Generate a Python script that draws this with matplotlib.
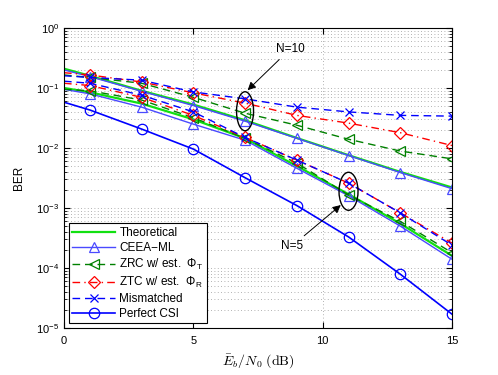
import matplotlib
matplotlib.use("Agg")
import matplotlib.pyplot as plt
import matplotlib.transforms as mtransforms
from matplotlib.patches import Ellipse
from matplotlib.ticker import LogLocator, NullFormatter

plt.rcParams['font.family'] = ['Liberation Sans', 'DejaVu Sans']
plt.rcParams['mathtext.fontset'] = 'custom'
plt.rcParams['mathtext.rm'] = 'Liberation Sans'
plt.rcParams['mathtext.it'] = 'Liberation Sans:italic'

# Eb/N0 points (markers on every point except the first)
snr = [0, 1, 3, 5, 7, 9, 11, 13, 15]

# N = 10 group
theo_10 = [0.21, 0.16, 0.09, 0.053, 0.029, 0.0147, 0.0076, 0.004, 0.0022]
ceea_10 = [0.20, 0.155, 0.088, 0.051, 0.028, 0.0145, 0.0075, 0.0039, 0.0021]
zrc_10 = [0.165, 0.15, 0.12, 0.07, 0.038, 0.024, 0.014, 0.0089, 0.0066]
ztc_10 = [0.18, 0.165, 0.126, 0.083, 0.056, 0.035, 0.026, 0.018, 0.011]
mis_10 = [0.16, 0.15, 0.135, 0.086, 0.066, 0.048, 0.04, 0.035, 0.034]

# N = 5 group
theo_5 = [0.10, 0.085, 0.055, 0.03, 0.0145, 0.005, 0.0017, 5.5e-4, 1.6e-4]
ceea_5 = [0.095, 0.08, 0.048, 0.025, 0.0135, 0.0046, 0.0016, 5.0e-4, 1.4e-4]
zrc_5 = [0.095, 0.09, 0.063, 0.032, 0.0145, 0.0056, 0.00165, 6.0e-4, 1.8e-4]
ztc_5 = [0.12, 0.11, 0.07, 0.035, 0.015, 0.0063, 0.0026, 8.3e-4, 2.6e-4]
mis_5 = [0.13, 0.12, 0.076, 0.04, 0.015, 0.0063, 0.0026, 8.3e-4, 2.4e-4]

perfect = [0.058, 0.043, 0.0207, 0.0096, 0.0032, 0.0011, 3.3e-4, 7.9e-5, 1.7e-5]

# ellipse centres (Eb/N0, BER) and annotation anchors
ell_10 = (7, 0.041)
ell_5 = (11, 0.0019)
arrow_10 = (7.1, 0.092)
text_10 = (8.75, 0.45)
arrow_5 = (10.7, 0.00112)
text_5 = (8.8, 0.00023)

fig = plt.figure(figsize=(4.98, 3.75), dpi=100)
ax = fig.add_axes([0.1285, 0.1253, 0.7791, 0.8000])

mk = dict(markevery=list(range(1, 9)), fillstyle='none', markersize=7.5, markeredgewidth=0.9)
dash = (5.5, 3.5)
dashdot = (5.5, 3, 1, 3)

green = '#11e011'
lblue = '#4a4aff'
dgreen = '#008000'

for theo, ceea, zrc, ztc, mis, first in [(theo_10, ceea_10, zrc_10, ztc_10, mis_10, True),
                                         (theo_5, ceea_5, zrc_5, ztc_5, mis_5, False)]:
    ax.plot(snr, theo, color=green, lw=1.6, label='Theoretical' if first else None)
    ax.plot(snr, ceea, color=lblue, lw=1.0, marker='^', label='CEEA\u2212ML' if first else None, **mk)
    ax.plot(snr, zrc, color=dgreen, lw=1.0, marker='<', dashes=dash,
            label=r'ZRC w/ est.  $\Phi_{\mathrm{T}}$' if first else None, **mk)
    ax.plot(snr, ztc, color='red', lw=1.0, marker='D', dashes=dashdot,
            label=r'ZTC w/ est.  $\Phi_{\mathrm{R}}$' if first else None,
            **dict(mk, markersize=6.5))
    ax.plot(snr, mis, color='blue', lw=1.0, marker='x', dashes=dash,
            label='Mismatched' if first else None, **dict(mk, markersize=6))

ax.plot(snr, perfect, color='blue', lw=1.2, marker='o', label='Perfect CSI', **mk)

# ellipses drawn in inches, centred on a data point
for (ex, ey), w, h in [(ell_10, 0.17, 0.39), (ell_5, 0.19, 0.38)]:
    tr = fig.dpi_scale_trans + mtransforms.ScaledTranslation(ex, ey, ax.transData)
    ax.add_patch(Ellipse((0, 0), w, h, transform=tr, fill=False, ec='black', lw=1.0, zorder=5))

arr = dict(arrowstyle='-|>', color='black', lw=0.7, mutation_scale=12, shrinkA=2, shrinkB=0)
ax.annotate('N=10', xy=arrow_10, xytext=text_10, fontsize=8.5, ha='center', va='center',
            arrowprops=arr, zorder=6)
ax.annotate('N=5', xy=arrow_5, xytext=text_5, fontsize=8.5, ha='center', va='center',
            arrowprops=arr, zorder=6)

ax.set_yscale('log')
ax.set_xlim(0, 15)
ax.set_ylim(1e-5, 1)
ax.set_xticks([0, 5, 10, 15])
ax.yaxis.set_major_locator(LogLocator(base=10, numticks=10))
ax.yaxis.set_minor_locator(LogLocator(base=10, subs=range(2, 10), numticks=20))
ax.yaxis.set_minor_formatter(NullFormatter())
ax.tick_params(which='both', direction='in', top=True, right=True, labelsize=8)
ax.tick_params(which='major', length=4)
ax.tick_params(which='minor', length=2)
ax.tick_params(axis='x', pad=6)
ax.grid(True, which='major', color='#999999', ls=(0, (1, 3)), lw=0.6)
ax.grid(True, which='minor', axis='y', color='#999999', ls=(0, (1, 3)), lw=0.6)
for s in ax.spines.values():
    s.set_linewidth(0.8)

ax.set_xlabel(r'$\bar{E}_b/N_0\ (\mathrm{dB})$', fontsize=10, labelpad=4, math_fontfamily='cm')
ax.set_ylabel('BER', fontsize=8.5, labelpad=8)

leg = ax.legend(loc='lower left', fontsize=8.5, handlelength=3.6, handletextpad=0.4,
                labelspacing=0.25, borderpad=0.3, borderaxespad=0.4, fancybox=False,
                framealpha=1, edgecolor='black')
leg.get_frame().set_linewidth(0.8)

fig.savefig('out.png', dpi=100)
